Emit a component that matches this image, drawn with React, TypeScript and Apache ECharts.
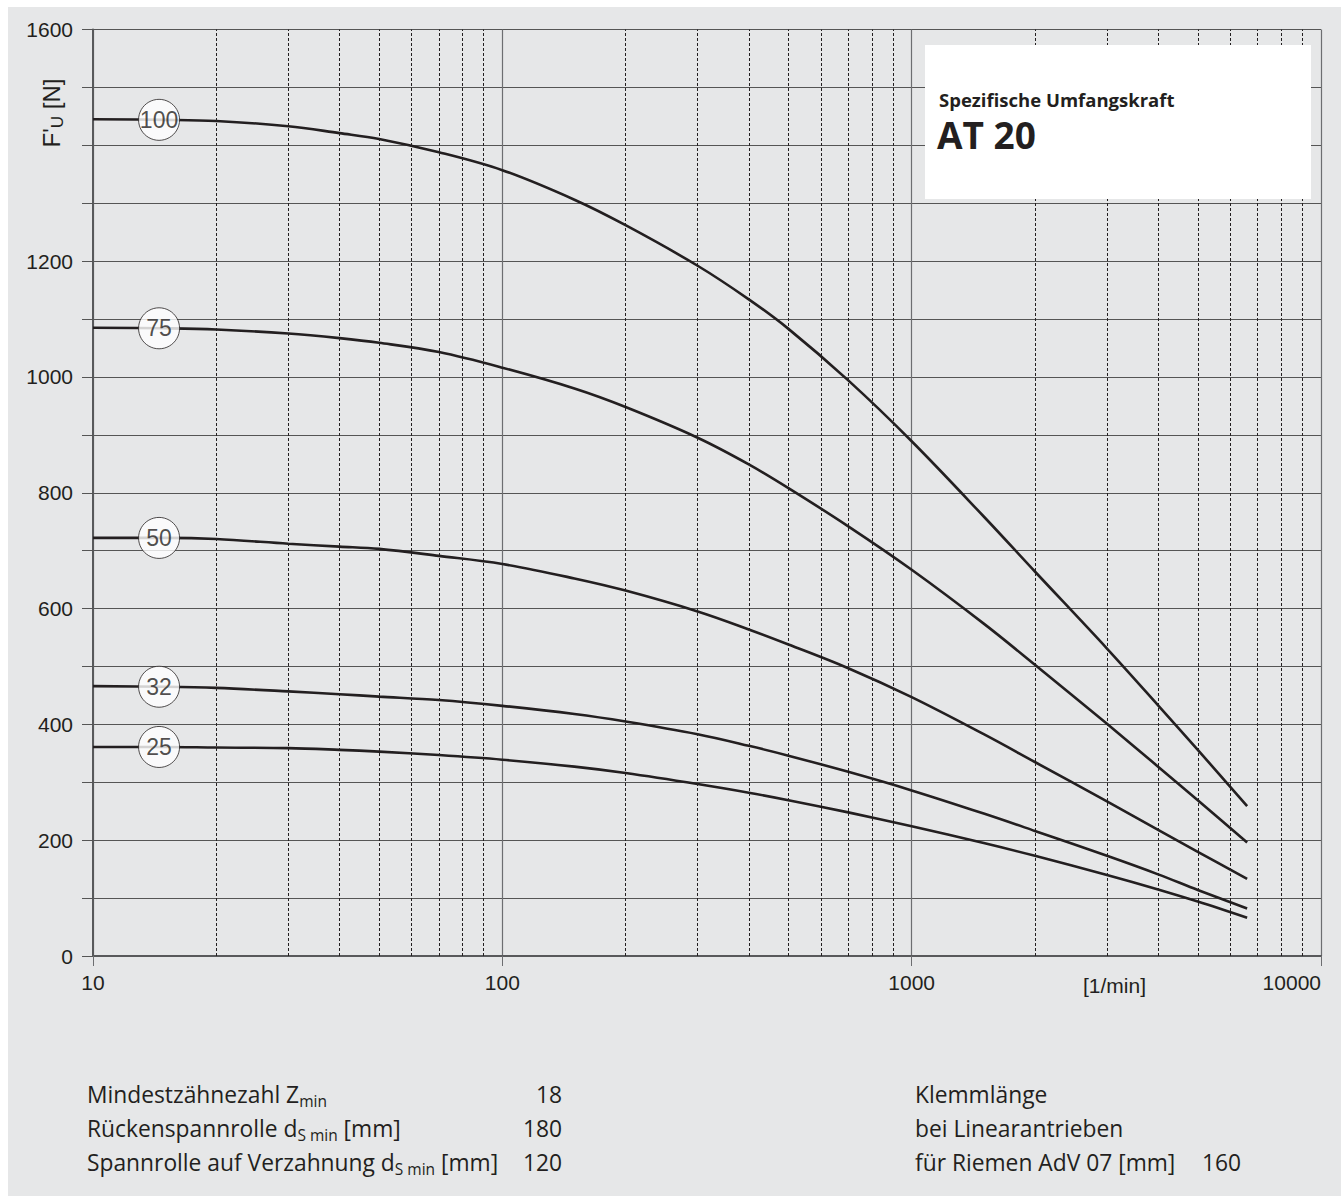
import React, { useEffect, useRef } from "react";
import * as echarts from "echarts";

// ---- data ----
const X_VALUES = [10, 15, 20, 30, 40, 50, 70, 100, 150, 200, 300, 400, 500, 700, 1000, 1500, 2000, 3000, 4000, 5000, 6600];
const CURVE_NAMES = ["100", "75", "50", "32", "25"];
const Z100 = [1445, 1444, 1442, 1433, 1421, 1411, 1388, 1357, 1306, 1262, 1192, 1134, 1083, 994, 889, 759, 664, 531, 433, 356, 259];
const Z75 = [1085, 1084, 1082, 1075, 1067, 1059, 1043, 1016, 980, 948, 895, 849, 808, 742, 667, 574, 503, 401, 327, 269, 196];
const Z50 = [722, 722, 720, 712, 707, 703, 691, 677, 652, 631, 595, 564, 538, 497, 447, 383, 335, 267, 218, 180, 133];
const Z32 = [466, 465, 463, 457, 452, 448, 442, 432, 418, 405, 383, 363, 346, 318, 286, 246, 216, 173, 141, 114, 82];
const Z25 = [361, 361, 360, 359, 356, 353, 347, 339, 327, 316, 297, 282, 269, 248, 224, 195, 173, 140, 115, 94, 66];
const CURVES = [Z100, Z75, Z50, Z32, Z25];
const LABEL_X = 14.5;
const MINOR_X = [20, 30, 40, 50, 60, 70, 80, 90, 200, 300, 400, 500, 600, 700, 800, 900, 2000, 3000, 4000, 5000, 6000, 7000, 8000, 9000];
const Y_LABELS = [0, 200, 400, 600, 800, 1000, 1200, 1600];

const BOX_TITLE = "Spezifische Umfangskraft";
const BOX_SUBTITLE = "AT 20";
const X_UNIT = "[1/min]";
const LEFT_ROWS = ["Mindestzähnezahl Z{sub|min}", "Rückenspannrolle d{sub|S min} [mm]", "Spannrolle auf Verzahnung d{sub|S min} [mm]"];
const LEFT_VALUES = ["18", "180", "120"];
const RIGHT_ROWS = ["Klemmlänge", "bei Linearantrieben", "für Riemen AdV 07 [mm]"];
const RIGHT_VALUES = ["", "", "160"];

const INK = "#231f20";
const SANS = "Liberation Sans";
const HUMAN = "Open Sans";
const W = 1333;
const H = 1189;

function buildOption(): any {
  const lineSeries = CURVES.map((vals, i) => {
    const s: any = {
      type: "line",
      name: CURVE_NAMES[i],
      data: X_VALUES.map((x, j) => [x, vals[j]]),
      showSymbol: false,
      symbol: "none",
      smooth: 0.35,
      lineStyle: { color: INK, width: 2.6 },
      silent: true,
      z: 3,
    };
    if (i === 0) {
      s.markLine = {
        silent: true,
        symbol: ["none", "none"],
        label: { show: false },
        lineStyle: { type: [3, 2], color: INK, width: 1 },
        data: MINOR_X.map((x) => ({ xAxis: x })),
      };
    }
    return s;
  });

  const labelSeries = {
    type: "scatter",
    silent: true,
    z: 6,
    symbol: "circle",
    symbolSize: 41,
    itemStyle: { color: "#ffffff", borderColor: INK, borderWidth: 1 },
    label: {
      show: true,
      position: "inside",
      formatter: "{b}",
      fontSize: 23,
      fontFamily: SANS,
      color: INK,
    },
    data: CURVES.map((vals, i) => ({ name: CURVE_NAMES[i], value: [LABEL_X, vals[1]] })),
  };

  const rowY = [1087, 1121, 1155];
  const FS = 22.8;
  const rich = { sub: { fontSize: 15.5, fontFamily: HUMAN, fill: INK, color: INK, padding: [14, 0, 0, 0] } };
  const textEls: any[] = [];
  LEFT_ROWS.forEach((t, i) => {
    textEls.push({
      type: "text", x: 79, y: rowY[i], z: 101,
      style: { text: t, fontSize: FS, fontFamily: HUMAN, fill: INK, align: "left", verticalAlign: "middle", rich },
    });
    textEls.push({
      type: "text", x: 554, y: rowY[i], z: 101,
      style: { text: LEFT_VALUES[i], fontSize: FS, fontFamily: HUMAN, fill: INK, align: "right", verticalAlign: "middle" },
    });
  });
  RIGHT_ROWS.forEach((t, i) => {
    textEls.push({
      type: "text", x: 907, y: rowY[i], z: 101,
      style: { text: t, fontSize: FS, fontFamily: HUMAN, fill: INK, align: "left", verticalAlign: "middle" },
    });
    if (RIGHT_VALUES[i]) {
      textEls.push({
        type: "text", x: 1233, y: rowY[i], z: 101,
        style: { text: RIGHT_VALUES[i], fontSize: FS, fontFamily: HUMAN, fill: INK, align: "right", verticalAlign: "middle" },
      });
    }
  });

  return {
    animation: false,
    backgroundColor: "#e6e7e8",
    grid: { left: 85, right: 20, top: 22.5, bottom: 240, containLabel: false, outerBoundsMode: "none" },
    xAxis: {
      type: "log",
      logBase: 10,
      min: 10,
      max: 10000,
      splitNumber: 3,
      axisLine: { show: true, onZero: false, lineStyle: { color: "#58595b", width: 2 } },
      axisTick: { show: true, length: 10, lineStyle: { color: "#6d6e71", width: 1 } },
      axisLabel: {
        show: true,
        margin: 16,
        fontSize: 21,
        fontFamily: SANS,
        color: INK,
        showMinLabel: true,
        showMaxLabel: true,
        alignMaxLabel: "right",
        hideOverlap: false,
        formatter: (v: number) => String(Math.round(v)),
      },
      splitLine: { show: true, lineStyle: { color: "#6d6e71", width: 1.2 } },
    },
    yAxis: {
      type: "value",
      min: 0,
      max: 1600,
      interval: 100,
      axisLine: { show: true, onZero: false, lineStyle: { color: "#58595b", width: 2 } },
      axisTick: { show: true, length: 11, lineStyle: { color: "#555", width: 1 } },
      axisLabel: {
        margin: 20,
        fontSize: 21,
        fontFamily: SANS,
        color: INK,
        formatter: (v: number) => (Y_LABELS.indexOf(v) >= 0 ? String(v) : ""),
      },
      splitLine: { show: true, lineStyle: { color: "#555", width: 1 } },
    },
    graphic: [
      { type: "rect", z: 100, shape: { x: 917, y: 38, width: 386, height: 154 }, style: { fill: "#ffffff" } },
      {
        type: "text", x: 931, y: 92.6, z: 101,
        style: { text: BOX_TITLE, fontSize: 18.5, fontWeight: "bold", fontFamily: HUMAN, fill: INK, align: "left", verticalAlign: "middle" },
      },
      {
        type: "text", x: 929, y: 127.9, z: 101,
        style: { text: BOX_SUBTITLE, fontSize: 37, fontWeight: "bold", fontFamily: HUMAN, fill: INK, align: "left", verticalAlign: "middle" },
      },
      {
        type: "text", x: 43, y: 106, z: 101, rotation: Math.PI / 2,
        style: {
          text: "F'{sub|U} [N]",
          fontSize: 24,
          fontFamily: SANS,
          fill: INK,
          align: "center",
          verticalAlign: "middle",
          rich: { sub: { fontSize: 17, fontFamily: SANS, fill: INK, color: INK, padding: [12, 0, 0, 0] } },
        },
      },
      {
        type: "text", x: 1106.5, y: 978, z: 101,
        style: { text: X_UNIT, fontSize: 21, fontFamily: SANS, fill: INK, align: "center", verticalAlign: "middle" },
      },
      ...textEls,
    ],
    series: [...lineSeries, labelSeries],
  };
}

export default function App() {
  const ref = useRef<HTMLDivElement>(null);
  useEffect(() => {
    if (!ref.current) return;
    const chart = echarts.init(ref.current, null, { renderer: "svg", width: W, height: H });
    chart.setOption(buildOption());
    return () => chart.dispose();
  }, []);
  return (
    <div
      ref={ref}
      style={{ position: "absolute", left: 8, top: 7, width: W, height: H }}
    />
  );
}
